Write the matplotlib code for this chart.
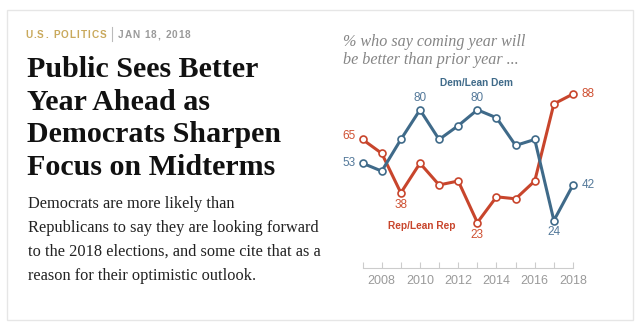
import matplotlib
matplotlib.use("Agg")
import matplotlib.pyplot as plt
from matplotlib.patches import Rectangle

# data
years = list(range(2007, 2019))
dem = [53, 49, 65, 80, 65, 72, 80, 76, 62, 65, 24, 42]
rep = [65, 58, 38, 53, 42, 44, 23, 36, 35, 44, 83, 88]
tick_years = [2008, 2010, 2012, 2014, 2016, 2018]

title_lines = ["Public Sees Better", "Year Ahead as", "Democrats Sharpen", "Focus on Midterms"]
body_lines = ["Democrats are more likely than",
              "Republicans to say they are looking forward",
              "to the 2018 elections, and some cite that as a",
              "reason for their optimistic outlook."]
sub_lines = ["% who say coming year will", "be better than prior year ..."]

# (year index, text, dx, dy) -- offsets in pixels
dem_labels = [(0, "53", -14, 0), (3, "80", 0, 12), (6, "80", 0, 12), (10, "24", 0, -11), (11, "42", 15, 0)]
rep_labels = [(0, "65", -14, 3), (2, "38", 0, -12), (6, "23", 0, -12), (11, "88", 15, 0)]

BLUE = "#3f6a89"
BLUE_TXT = "#54799a"
RED = "#c8452c"
RED_TXT = "#cf5032"
GREY = "#9a9a9a"

W, H = 640, 332
fig = plt.figure(figsize=(W / 100, H / 100), dpi=100)


def fx(x):
    return x / W


def fy(y):
    return 1 - y / H


def spaced(x, y, s, gap, **kw):
    # draw text char by char to mimic letter spacing
    r = fig.canvas.get_renderer()
    for ch in s:
        t = fig.text(fx(x), fy(y), ch, va="baseline", **kw)
        w = t.get_window_extent(renderer=r).width
        if ch == " ":
            w = 3
        x += w + gap
    return x


# card border
fig.patches.append(Rectangle((fx(7), fy(320)), fx(633) - fx(7), fy(10) - fy(320),
                             transform=fig.transFigure, fill=False,
                             edgecolor="#e6e6e6", linewidth=1))

# header
spaced(25, 38, "U.S. POLITICS", 1.1, fontsize=7.2, fontweight="bold",
       family="Liberation Sans", color="#c9a95c")
fig.lines.append(plt.Line2D([fx(111.5), fx(111.5)], [fy(27), fy(41)],
                            transform=fig.transFigure, color="#bbbbbb", linewidth=0.8))
spaced(118, 38, "JAN 18, 2018", 0.9, fontsize=7.2, fontweight="bold",
       family="Liberation Sans", color="#9a9a9a")

for i, line in enumerate(title_lines):
    fig.text(fx(27), fy(77 + 32.7 * i), line, fontsize=21.6, fontweight="bold",
             family="Liberation Serif", color="#111111", va="baseline")

for i, line in enumerate(body_lines):
    fig.text(fx(28), fy(208 + 24 * i), line, fontsize=11.8,
             family="Liberation Serif", color="#222222", va="baseline")

for i, line in enumerate(sub_lines):
    fig.text(fx(343), fy(46 + 18 * i), line, fontsize=11.6, style="italic",
             family="Liberation Serif", color="#858585", va="baseline")

# chart area: 2007 at x=362.6, 2018 at x=573; 0 at y=268, 100 at y=70.3
ax = fig.add_axes([fx(362.6), fy(268), fx(573) - fx(362.6), fy(70.3) - fy(268)])
ax.set_xlim(2007, 2018)
ax.set_ylim(0, 100)
ax.patch.set_visible(False)
for sp in ["top", "right", "left"]:
    ax.spines[sp].set_visible(False)
ax.spines["bottom"].set_color("#cccccc")
ax.spines["bottom"].set_linewidth(0.8)
ax.set_yticks([])
ax.set_xticks(years, minor=True)
ax.set_xticks(tick_years)
ax.set_xticklabels([str(y) for y in tick_years])
ax.tick_params(axis="x", which="both", direction="in", length=4, width=0.8,
               color="#cccccc", pad=5, labelsize=9, labelcolor=GREY)
for lab in ax.get_xticklabels():
    lab.set_family("Liberation Sans")

ax.plot(years, rep, color=RED, linewidth=2.2, marker="o", markersize=5,
        markerfacecolor="white", markeredgecolor=RED, markeredgewidth=1.2,
        clip_on=False, zorder=3)
ax.plot(years, dem, color=BLUE, linewidth=2.2, marker="o", markersize=5,
        markerfacecolor="white", markeredgecolor=BLUE, markeredgewidth=1.2,
        clip_on=False, zorder=4)

for idx, txt, dx, dy in dem_labels:
    ax.annotate(txt, (years[idx], dem[idx]), xytext=(dx, dy), textcoords="offset pixels",
                ha="center", va="center", fontsize=8.5, family="Liberation Sans",
                color=BLUE_TXT)
for idx, txt, dx, dy in rep_labels:
    ax.annotate(txt, (years[idx], rep[idx]), xytext=(dx, dy), textcoords="offset pixels",
                ha="center", va="center", fontsize=8.5, family="Liberation Sans",
                color=RED_TXT)

fig.text(fx(477), fy(86), "Dem/Lean Dem", fontsize=7.3, fontweight="bold",
         family="Liberation Sans", color=BLUE, ha="center", va="baseline")
fig.text(fx(422), fy(229), "Rep/Lean Rep", fontsize=7.3, fontweight="bold",
         family="Liberation Sans", color=RED, ha="center", va="baseline")

fig.savefig("out.png", dpi=100, facecolor="white")
